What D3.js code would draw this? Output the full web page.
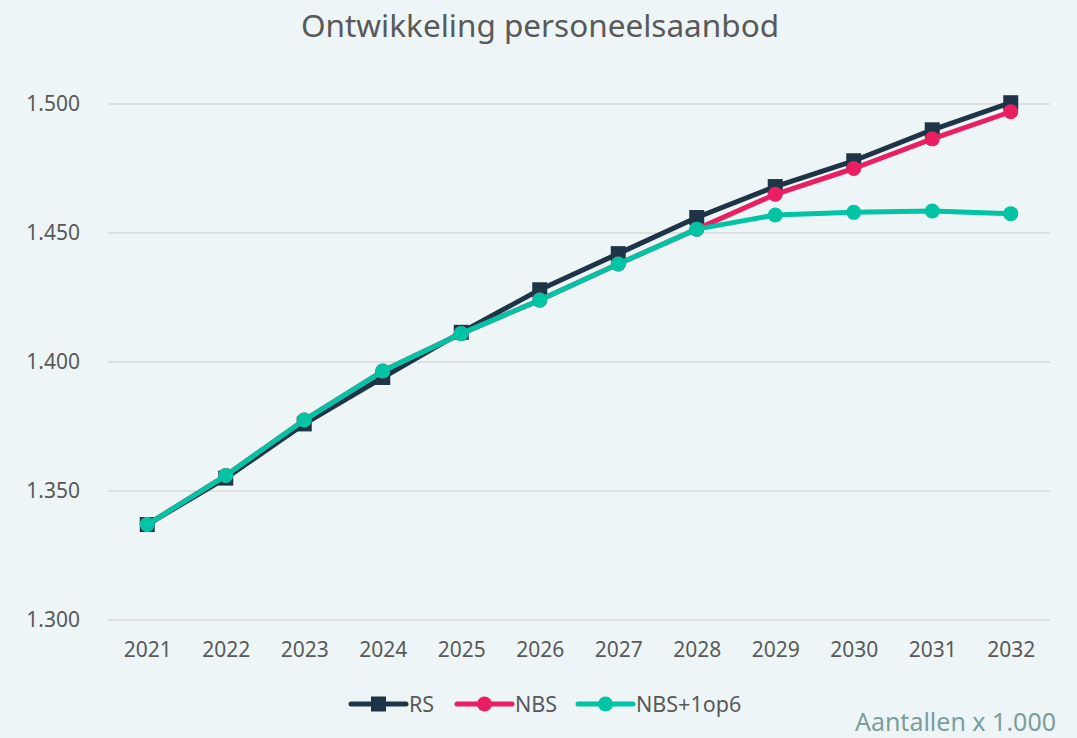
<!DOCTYPE html>
<html>
<head>
<meta charset="utf-8">
<script src="https://cdn.jsdelivr.net/npm/d3@7"></script>
<style>
body { margin: 0; background: #edf5f7; }
svg { display: block; font-family: "Noto Sans", sans-serif; }
</style>
</head>
<body>
<div id="chart"></div>
<script>
const years = ['2021','2022','2023','2024','2025','2026','2027','2028','2029','2030','2031','2032']

const rs = [1337, 1355, 1376, 1394, 1411.5, 1428, 1442, 1456, 1468, 1478, 1490, 1500.5]
const nbs = [1337, 1356, 1377.5, 1396.5, 1411, 1424, 1438, 1451.5, 1465, 1475, 1486.5, 1497]
const nbs1op6 = [1337, 1356, 1377.5, 1396.5, 1411, 1424, 1438, 1451.5, 1457, 1458, 1458.5, 1457.5]

const yTicks = [1300, 1350, 1400, 1450, 1500]

const seriesNames = ['RS', 'NBS', 'NBS+1op6']
const seriesColors = ['#1e3548', '#ea1f62', '#00c4a4']

const width = 1077
const height = 738

const svg = d3.select('#chart')
	.append('svg')
	.attr('width', width)
	.attr('height', height)

svg.append('rect')
	.attr('width', width)
	.attr('height', height)
	.attr('fill', '#edf5f7')

let xScale = d3.scalePoint()
	.domain(years)
	.range([108, 1050])
	.padding(0.5)

let yScale = d3.scaleLinear()
	.domain([1300, 1500])
	.range([620, 104])

const nl = d3.formatLocale({decimal: ',', thousands: '.', grouping: [3], currency: ['€', '']})
const fmt = nl.format(',')

// title
svg.append('text')
	.attr('x', 540)
	.attr('y', 37)
	.attr('text-anchor', 'middle')
	.attr('font-size', 31.5)
	.attr('fill', '#595959')
	.text('Ontwikkeling personeelsaanbod')

// gridlines
svg.selectAll('.grid')
	.data(yTicks)
	.enter()
	.append('line')
	.attr('x1', 108)
	.attr('x2', 1050)
	.attr('y1', d => yScale(d))
	.attr('y2', d => yScale(d))
	.attr('stroke', '#d9d9d9')
	.attr('stroke-width', 1.5)

// y axis labels
let yAxis = d3.axisLeft(yScale)
	.tickValues(yTicks)
	.tickFormat(fmt)
	.tickSize(0)
	.tickPadding(0)

let yg = svg.append('g')
	.attr('transform', 'translate(80,0)')
	.call(yAxis)
yg.select('.domain').remove()
yg.selectAll('text')
	.attr('font-size', 21)
	.attr('font-family', '"Noto Sans", sans-serif')
	.attr('fill', '#595959')

// x axis labels
let xAxis = d3.axisBottom(xScale)
	.tickSize(0)
	.tickPadding(0)

let xg = svg.append('g')
	.attr('transform', 'translate(0,642)')
	.call(xAxis)
xg.select('.domain').remove()
xg.selectAll('text')
	.attr('font-size', 21)
	.attr('font-family', '"Noto Sans", sans-serif')
	.attr('fill', '#595959')

let line = d3.line()
	.x((d, i) => xScale(years[i]))
	.y(d => yScale(d))

const allSeries = [rs, nbs, nbs1op6]

allSeries.forEach(function(values, s){

	svg.append('path')
		.datum(values)
		.attr('d', line)
		.attr('fill', 'none')
		.attr('stroke', seriesColors[s])
		.attr('stroke-width', 5)
		.attr('stroke-linejoin', 'round')

	if(s == 0){
		svg.selectAll('.pt' + s)
			.data(values)
			.enter()
			.append('rect')
			.attr('x', (d, i) => xScale(years[i]) - 7.5)
			.attr('y', d => yScale(d) - 7.5)
			.attr('width', 15)
			.attr('height', 15)
			.attr('fill', seriesColors[s])
	} else {
		svg.selectAll('.pt' + s)
			.data(values)
			.enter()
			.append('circle')
			.attr('cx', (d, i) => xScale(years[i]))
			.attr('cy', d => yScale(d))
			.attr('r', 7.5)
			.attr('fill', seriesColors[s])
	}
})

// legend
const legendX = [351, 457, 578]
seriesNames.forEach(function(name, s){
	let g = svg.append('g').attr('transform', 'translate(' + legendX[s] + ',704)')
	g.append('line')
		.attr('x1', 0)
		.attr('x2', 55)
		.attr('stroke', seriesColors[s])
		.attr('stroke-width', 5)
		.attr('stroke-linecap', 'round')
	if(s == 0){
		g.append('rect')
			.attr('x', 20).attr('y', -7.5)
			.attr('width', 15).attr('height', 15)
			.attr('fill', seriesColors[s])
	} else {
		g.append('circle')
			.attr('cx', 27.5).attr('r', 7.5)
			.attr('fill', seriesColors[s])
	}
	g.append('text')
		.attr('x', 58)
		.attr('y', 8)
		.attr('font-size', 21.5)
		.attr('fill', '#595959')
		.text(name)
})

svg.append('text')
	.attr('x', 1056)
	.attr('y', 731)
	.attr('text-anchor', 'end')
	.attr('font-size', 25)
	.attr('fill', '#7b9d9e')
	.text('Aantallen x 1.000')
</script>
</body>
</html>
